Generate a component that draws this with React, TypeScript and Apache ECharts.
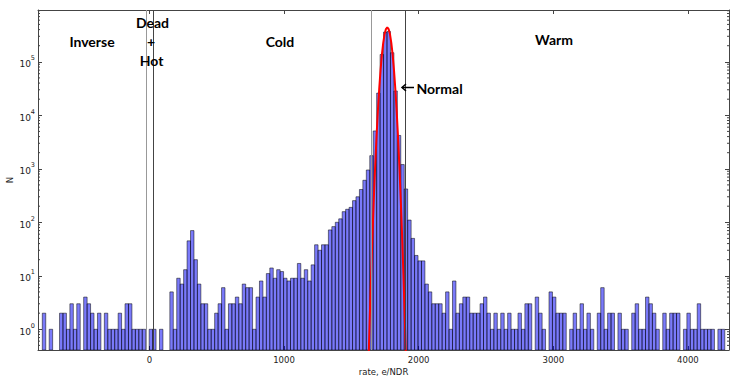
import React, { useEffect, useRef } from 'react';
import * as echarts from 'echarts';

// Histogram: bins start at BIN_START with width BIN_WIDTH (rate, e/NDR)
const BIN_START = -795;
const BIN_WIDTH = 25.6;
const counts = [
  2, 0, 1, 0, 0, 2, 2, 1, 3, 1, 3, 0, 4, 3, 2, 1, 2, 0, 2, 1,
  1, 1, 2, 1, 3, 3, 1, 1, 1, 1, 0, 1, 1, 0, 1, 0, 0, 5, 1, 9,
  7, 13, 45, 70, 20, 7, 3, 3, 1, 1, 2, 3, 6, 1, 3, 3, 4, 3, 7, 6,
  6, 1, 4, 8, 4, 11, 14, 9, 13, 12, 9, 8, 9, 9, 17, 9, 13, 8, 16, 38,
  30, 38, 38, 72, 83, 100, 116, 158, 175, 190, 254, 300, 410, 610, 950, 1760, 5100, 26000, 137000, 360000,
  370000, 148000, 28500, 4200, 1200, 420, 110, 50, 24, 19, 19, 7, 5, 3, 3, 3, 2, 5, 1, 8,
  2, 3, 4, 4, 2, 2, 2, 3, 4, 2, 1, 2, 1, 2, 1, 2, 1, 1, 2, 1,
  3, 3, 0, 4, 2, 1, 0, 5, 4, 2, 2, 2, 0, 1, 2, 1, 3, 1, 2, 1,
  0, 2, 6, 1, 2, 2, 0, 2, 1, 1, 0, 2, 3, 1, 1, 4, 3, 2, 1, 0,
  2, 1, 2, 2, 2, 0, 1, 2, 1, 1, 3, 1, 1, 1, 1, 0, 1, 1,
];

// Fitted normal curve
const fitX = [1627, 1637, 1647, 1657, 1667, 1677, 1687, 1697, 1707, 1717, 1727, 1737, 1747, 1757, 1767,
  1777, 1787, 1797, 1807, 1817, 1827, 1837, 1847, 1857, 1867, 1877, 1887, 1897, 1907];
const fitY = [0.22, 1.64, 10.4, 57, 270, 1100, 3870, 11700, 30700, 69300, 134700, 226000, 327300, 408700, 440000,
  408700, 327300, 226000, 134700, 69300, 30700, 11700, 3870, 1100, 270, 57, 10.4, 1.64, 0.22];

// Region boundaries
const boundaryLines = [-20, 27, 1645, 1900];
const boundaryColors = ['#999999', '#444444', '#999999', '#444444'];

const xTickValues = [0, 1000, 2000, 3000, 4000];
const yMinorTicks = [
  0.5, 0.6, 0.7, 0.8, 0.9,
  2, 3, 4, 5, 6, 7, 8, 9,
  20, 30, 40, 50, 60, 70, 80, 90,
  200, 300, 400, 500, 600, 700, 800, 900,
  2000, 3000, 4000, 5000, 6000, 7000, 8000, 9000,
  20000, 30000, 40000, 50000, 60000, 70000, 80000, 90000,
  200000, 300000, 400000, 500000, 600000, 700000, 800000, 900000,
];

const X_MIN = -827;
const X_MAX = 4305;
const Y_MIN = 0.41;
const Y_MAX = 930000;

const AXIS_COLOR = '#444';
const LABEL_FONT = 'DejaVu Sans';

export default function App() {
  const ref = useRef<HTMLDivElement>(null);

  useEffect(() => {
    if (!ref.current) return;
    const chart = echarts.init(ref.current, null, { renderer: 'svg' });

    const barData = counts
      .map((c, i) => [BIN_START + i * BIN_WIDTH, BIN_START + (i + 1) * BIN_WIDTH, c])
      .filter((d) => d[2] > 0);

    const textEl = (text: string, x: number, y: number, align = 'center') => ({
      type: 'text',
      x,
      y,
      silent: true,
      z: 100,
      style: {
        text,
        fill: '#000',
        font: 'bold 14px Lato',
        align,
        verticalAlign: 'middle',
        textAlign: align,
        textVerticalAlign: 'middle',
      },
    });

    const option: any = {
      animation: false,
      backgroundColor: '#fff',
      grid: { left: 38, right: 9, top: 10, bottom: 32, containLabel: false, outerBoundsMode: 'none' },
      xAxis: [
        {
          type: 'value',
          min: X_MIN,
          max: X_MAX,
          position: 'bottom',
          splitLine: { show: false },
          axisLine: { show: true, onZero: false, lineStyle: { color: AXIS_COLOR, width: 1 } },
          axisTick: { show: true, inside: true, length: 4, lineStyle: { color: AXIS_COLOR } },
          axisLabel: {
            show: true,
            showMinLabel: false,
            showMaxLabel: false,
            margin: 5,
            color: '#222',
            fontFamily: LABEL_FONT,
            fontSize: 8.5,
            formatter: (v: number) => (xTickValues.includes(v) ? String(v) : ''),
          },
          name: 'rate, e/NDR',
          nameLocation: 'middle',
          nameGap: 17,
          nameMoveOverlap: false,
          nameTextStyle: { color: '#222', fontFamily: LABEL_FONT, fontSize: 8.5 },
        },
        {
          type: 'value',
          min: X_MIN,
          max: X_MAX,
          position: 'top',
          splitLine: { show: false },
          axisLine: { show: true, onZero: false, lineStyle: { color: AXIS_COLOR, width: 1 } },
          axisTick: { show: true, inside: true, length: 4, lineStyle: { color: AXIS_COLOR } },
          axisLabel: { show: false },
        },
      ],
      yAxis: [
        {
          type: 'log',
          logBase: 10,
          min: Y_MIN,
          max: Y_MAX,
          position: 'left',
          splitLine: { show: false },
          axisLine: { show: true, onZero: false, lineStyle: { color: AXIS_COLOR, width: 1 } },
          axisTick: { show: true, inside: true, length: 4, lineStyle: { color: AXIS_COLOR } },
          minorTick: { show: false },
          axisLabel: {
            show: true,
            margin: 3,
            color: '#222',
            fontFamily: LABEL_FONT,
            formatter: (v: number) => {
              const l = Math.log10(v);
              const e = Math.round(l);
              if (Math.abs(l - e) > 1e-6) return '';
              return '{b|10}{s|' + e + '}';
            },
            rich: {
              b: { fontSize: 9, fontFamily: LABEL_FONT, color: '#222', lineHeight: 14, verticalAlign: 'bottom' },
              s: { fontSize: 6.5, fontFamily: LABEL_FONT, color: '#222', lineHeight: 14, verticalAlign: 'top' },
            },
          },
          name: 'N',
          nameLocation: 'middle',
          nameGap: 24,
          nameMoveOverlap: false,
          nameRotate: 90,
          nameTextStyle: { color: '#222', fontFamily: LABEL_FONT, fontSize: 8.5 },
        },
        {
          type: 'log',
          logBase: 10,
          min: Y_MIN,
          max: Y_MAX,
          position: 'right',
          splitLine: { show: false },
          axisLine: { show: true, onZero: false, lineStyle: { color: AXIS_COLOR, width: 1 } },
          axisTick: { show: true, inside: true, length: 4, lineStyle: { color: AXIS_COLOR } },
          axisLabel: { show: false },
        },
      ],
      series: [
        {
          type: 'custom',
          name: 'hist',
          xAxisIndex: 0,
          yAxisIndex: 0,
          z: 2,
          silent: true,
          clip: true,
          data: barData,
          encode: { x: [0, 1], y: 2 },
          renderItem: (_params: any, api: any) => {
            const x0 = api.value(0);
            const x1 = api.value(1);
            const c = api.value(2);
            const top = api.coord([x0, c]);
            const bot = api.coord([x1, Y_MIN]);
            return {
              type: 'rect',
              shape: { x: top[0], y: top[1], width: bot[0] - top[0], height: bot[1] - top[1] },
              style: { fill: 'rgba(0,0,245,0.52)', stroke: 'rgba(0,0,0,0.5)', lineWidth: 1 },
            };
          },
        },
        {
          type: 'custom',
          name: 'minorTicks',
          xAxisIndex: 0,
          yAxisIndex: 0,
          z: 10,
          silent: true,
          clip: false,
          data: yMinorTicks.map((v) => [X_MIN, v]),
          encode: { x: 0, y: 1 },
          renderItem: (_params: any, api: any) => {
            const v = api.value(1);
            const l = api.coord([X_MIN, v]);
            const r = api.coord([X_MAX, v]);
            return {
              type: 'group',
              children: [
                { type: 'line', shape: { x1: l[0], y1: l[1], x2: l[0] + 2, y2: l[1] }, style: { stroke: AXIS_COLOR, lineWidth: 1 } },
                { type: 'line', shape: { x1: r[0] - 2, y1: r[1], x2: r[0], y2: r[1] }, style: { stroke: AXIS_COLOR, lineWidth: 1 } },
              ],
            };
          },
        },
        {
          type: 'line',
          name: 'fit',
          xAxisIndex: 0,
          yAxisIndex: 0,
          z: 5,
          silent: true,
          showSymbol: false,
          symbol: 'none',
          clip: true,
          smooth: false,
          data: fitX.map((x, i) => [x, fitY[i]]),
          lineStyle: { color: '#ff0000', width: 2 },
          markLine: {
            silent: true,
            symbol: ['none', 'none'],
            label: { show: false },
            z: 6,
            data: boundaryLines.map((x, i) => ({
              xAxis: x,
              lineStyle: { color: boundaryColors[i], width: 1, type: 'solid' },
            })),
          },
        },
      ],
      graphic: [
        textEl('Inverse', 92, 41),
        textEl('Dead', 152.5, 22),
        textEl('+', 151, 41),
        textEl('Hot', 151.5, 60),
        textEl('Cold', 280, 41),
        textEl('Warm', 554, 39),
        textEl('Normal', 416.5, 88, 'left'),
        { type: 'line', silent: true, z: 100, shape: { x1: 402, y1: 87.5, x2: 414, y2: 87.5 }, style: { stroke: '#000', lineWidth: 1.5 } },
        { type: 'polyline', silent: true, z: 100, shape: { points: [[406, 84], [402, 87.5], [406, 91]] }, style: { stroke: '#000', lineWidth: 1.5, fill: 'none' } },
      ],
    };

    chart.setOption(option);
    return () => chart.dispose();
  }, []);

  return (
    <div
      ref={ref}
      style={{ position: 'fixed', left: 0, top: 0, width: 738, height: 382, background: '#fff' }}
    />
  );
}
